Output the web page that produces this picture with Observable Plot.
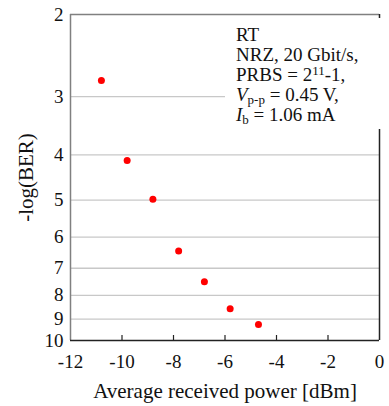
<!DOCTYPE html>
<html><head><meta charset="utf-8">
<script src="https://cdn.jsdelivr.net/npm/d3@7"></script>
<script src="https://cdn.jsdelivr.net/npm/@observablehq/plot@0.6"></script>
</head>
<body style="margin:0;background:#fff;font-family:'Liberation Serif'">
<div id="wrap" style="position:relative;width:389px;height:406px;font-family:'Liberation Serif'"><div id="note" style="position:absolute;left:225px;top:18px;width:150px;background:#fff;font-size:19px;line-height:20px;padding:7px 0 4px 11px;color:#111;z-index:2;font-family:'Liberation Serif'">RT<br>NRZ, 20 Gbit/s,<br>PRBS = 2<sup style="font-size:13px;line-height:0;vertical-align:6px">11</sup>-1,<br><i>V</i><sub style="font-size:13px;line-height:0;vertical-align:-3px">p-p</sub> = 0.45 V,<br><i>I</i><sub style="font-size:13px;line-height:0;vertical-align:-3px">b</sub> = 1.06 mA</div></div>
<script>
const power = [-10.8, -9.8, -8.8, -7.8, -6.8, -5.8, -4.7];
const negLogBER = [2.77, 4.11, 4.98, 6.43, 7.48, 8.55, 9.24];
const xTicks = [-12, -10, -8, -6, -4, -2, 0];
const xInnerTicks = [-10, -8, -6, -4, -2];
const yTicks = [2, 3, 4, 5, 6, 7, 8, 9, 10];
const gridTicks = [3, 4, 5, 6, 7, 8, 9];
const xLabel = "Average received power [dBm]";
const yLabel = "-log(BER)";

const data = power.map((p, i) => ({p, b: negLogBER[i]}));
const FONT = "Liberation Serif";

const chart = Plot.plot({
  width: 389, height: 406,
  marginLeft: 70, marginRight: 10, marginTop: 14, marginBottom: 66,
  style: {fontFamily: FONT, fontSize: "18px", color: "#111", background: "#fff"},
  x: {domain: [-12, 0]},
  y: {type: "log", domain: [2, 10], reverse: true},
  marks: [
    Plot.ruleY(gridTicks, {stroke: "#c8c8c8", strokeWidth: 1.3}),
    Plot.ruleX([-12], {stroke: "#808080", strokeWidth: 1.5}),
    Plot.ruleY([2], {stroke: "#808080", strokeWidth: 1.5}),
    Plot.ruleX([0], {stroke: "#222", strokeWidth: 1.5}),
    Plot.ruleY([10], {stroke: "#222", strokeWidth: 1.5}),
    Plot.tickX(xInnerTicks, {x: d => d, insetTop: 321, stroke: "#222", strokeWidth: 1.2}),
    Plot.axisX(xTicks, {tickSize: 0, tickPadding: 14, label: null, fontSize: 19, fontFamily: FONT, tickFormat: d => d}),
    Plot.axisX([], {tickSize: 0, label: xLabel, labelAnchor: "center", labelArrow: "none", labelOffset: 57, fontSize: 21, fontFamily: FONT}),
    Plot.axisY(yTicks, {tickSize: 0, tickPadding: 7, label: null, fontSize: 19, fontFamily: FONT, tickFormat: d => d}),
    Plot.axisY([], {tickSize: 0, label: yLabel, labelAnchor: "center", labelArrow: "none", labelOffset: 52, fontSize: 21, fontFamily: FONT}),
    Plot.dot(data, {x: "p", y: "b", r: 3.5, fill: "#ff0000", stroke: "none"})
  ]
});
const wrap = document.getElementById("wrap");
wrap.insertBefore(chart, document.getElementById("note"));
</script>
</body></html>
